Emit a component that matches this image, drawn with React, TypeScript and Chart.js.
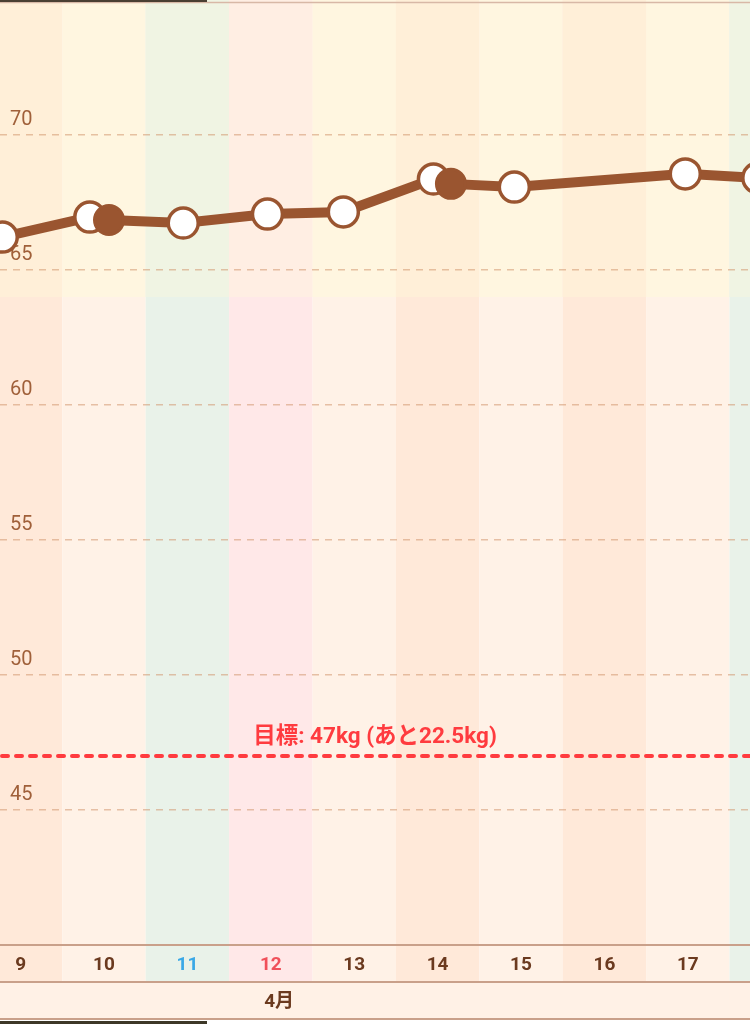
import React, { useEffect, useRef } from "react";
import { Chart, registerables } from "chart.js";

Chart.register(...registerables);

// day ticks shown under the plot
const DAYS = [9, 10, 11, 12, 13, 14, 15, 16, 17];
// background columns (one per day) and their kind
const COLUMN_DAYS = [9, 10, 11, 12, 13, 14, 15, 16, 17, 18];
const COLUMN_KIND = ["rest", "plain", "sat", "sun", "plain", "rest", "plain", "rest", "plain", "sat"];

// weight records: x = day (with time of day), y = kg
const WEIGHT_X = [8.78, 9.83, 10.06, 10.95, 11.96, 12.87, 13.95, 14.16, 14.92, 16.97, 17.84];
const WEIGHT_KG = [66.22, 66.96, 66.85, 66.74, 67.07, 67.15, 68.37, 68.19, 68.07, 68.56, 68.41];
const FILLED = [false, false, true, false, false, false, false, true, false, false, false];

const GOAL_KG = 47;
const GOAL_LABEL = "目標: 47kg (あと22.5kg)";
const ZONE_KG = 64;
const MONTH_LABEL = "4月";
const MONTH_AT = 12.1;

const BROWN = "#9A5530";
const TEXT_BROWN = "#6B3A1F";
const LINE_COLOR = "#C9A08A";
const UPPER: Record<string, string> = { rest: "#FFEFD8", plain: "#FFF6E0", sat: "#F0F4E3", sun: "#FFEEE3" };
const LOWER: Record<string, string> = { rest: "#FFE9D9", plain: "#FFF2E7", sat: "#E9F2E9", sun: "#FFE8E8" };

const FONT = "Roboto, 'Noto Sans CJK JP', sans-serif";
const ROW = 37;

const dayColor = (d: number) => (d === 11 ? "#3AA8E6" : d === 12 ? "#F0505A" : TEXT_BROWN);

const backdrop = {
  id: "backdrop",
  beforeDraw(chart: any) {
    const { ctx, chartArea, scales, width } = chart;
    const x = scales.x;
    const y = scales.y;
    const rowBottom = chartArea.bottom + ROW;
    ctx.save();
    COLUMN_DAYS.forEach((d, i) => {
      const l = x.getPixelForValue(d - 0.5);
      const r = x.getPixelForValue(d + 0.5);
      ctx.fillStyle = LOWER[COLUMN_KIND[i]];
      ctx.fillRect(l, 0, r - l, rowBottom);
      ctx.fillStyle = UPPER[COLUMN_KIND[i]];
      ctx.fillRect(l, 0, r - l, y.getPixelForValue(ZONE_KG));
    });
    ctx.fillStyle = "#FFF1E6";
    ctx.fillRect(0, rowBottom, width, ROW);

    ctx.strokeStyle = LINE_COLOR;
    ctx.lineWidth = 2;
    [chartArea.bottom, rowBottom, rowBottom + ROW].forEach((py) => {
      ctx.beginPath();
      ctx.moveTo(0, py);
      ctx.lineTo(width, py);
      ctx.stroke();
    });
    ctx.strokeStyle = "#D8B8A6";
    ctx.lineWidth = 1.5;
    ctx.beginPath();
    ctx.moveTo(0, 2.5);
    ctx.lineTo(width, 2.5);
    ctx.stroke();

    ctx.fillStyle = TEXT_BROWN;
    ctx.font = `bold 19px ${FONT}`;
    ctx.textAlign = "center";
    ctx.textBaseline = "middle";
    ctx.fillText(MONTH_LABEL, x.getPixelForValue(MONTH_AT), rowBottom + ROW / 2 + 2);
    ctx.restore();
  },
  beforeDatasetsDraw(chart: any) {
    const { ctx, chartArea, scales, width } = chart;
    const gy = scales.y.getPixelForValue(GOAL_KG);
    ctx.save();
    ctx.strokeStyle = "#FF3B3F";
    ctx.lineWidth = 4;
    ctx.lineCap = "round";
    ctx.setLineDash([6, 8]);
    ctx.beginPath();
    ctx.moveTo(2, gy);
    ctx.lineTo(width, gy);
    ctx.stroke();
    ctx.fillStyle = "#FF3B3F";
    ctx.font = `bold 22.5px ${FONT}`;
    ctx.textAlign = "center";
    ctx.textBaseline = "middle";
    ctx.fillText(GOAL_LABEL, (chartArea.left + chartArea.right) / 2, gy - 19);
    ctx.restore();
  },
};

const WeightChart: React.FC = () => {
  const ref = useRef<HTMLCanvasElement | null>(null);

  useEffect(() => {
    if (!ref.current) return;
    const chart = new Chart(ref.current, {
      type: "line",
      data: {
        datasets: [
          {
            data: WEIGHT_X.map((d, i) => ({ x: d, y: WEIGHT_KG[i] })),
            borderColor: BROWN,
            borderWidth: 10,
            tension: 0,
            pointRadius: (c: any) => (FILLED[c.dataIndex] ? 14.5 : 15),
            pointBackgroundColor: (c: any) => (FILLED[c.dataIndex] ? BROWN : "#FFFFFF"),
            pointBorderColor: BROWN,
            pointBorderWidth: (c: any) => (FILLED[c.dataIndex] ? 3 : 3.5),
            clip: false,
          },
        ],
      },
      options: {
        responsive: false,
        animation: false,
        events: [],
        layout: { autoPadding: false, padding: { left: 0, right: 0, top: 0, bottom: 38 } },
        plugins: { legend: { display: false }, tooltip: { enabled: false } },
        scales: {
          x: {
            type: "linear",
            min: 8.753,
            max: 17.746,
            afterBuildTicks: (s: any) => {
              s.ticks = DAYS.map((d) => ({ value: d }));
            },
            afterFit: (s: any) => {
              s.height = ROW;
              s.paddingLeft = 0;
              s.paddingRight = 0;
            },
            grid: { display: false, drawTicks: false },
            border: { display: false },
            ticks: {
              autoSkip: false,
              maxRotation: 0,
              padding: 9,
              font: { family: FONT, size: 19, weight: "bold" },
              color: (c: any) => dayColor(c.tick.value),
              callback: (v: any) => String(v),
            },
          },
          y: {
            min: 40,
            max: 75,
            afterFit: (s: any) => {
              s.width = 0;
              s.paddingTop = 0;
              s.paddingBottom = 0;
            },
            grid: {
              drawTicks: false,
              lineWidth: 1.5,
              color: (c: any) =>
                c.tick.value === 40 || c.tick.value === 75 ? "rgba(0,0,0,0)" : "rgba(210,150,110,0.55)",
            },
            border: { display: false, dash: [7, 6] },
            ticks: {
              stepSize: 5,
              mirror: true,
              padding: 10,
              labelOffset: -15,
              color: "#A0603A",
              font: { family: FONT, size: 20 },
              callback: (v: any) => (v === 40 || v === 75 ? "" : String(v)),
            },
          },
        },
      },
      plugins: [backdrop],
    } as any);
    return () => chart.destroy();
  }, []);

  return <canvas ref={ref} width={750} height={1020} />;
};

export default function App() {
  return (
    <div style={{ position: "fixed", left: 0, top: 0, width: 750, height: 1024, background: "#FFFFFF", overflow: "hidden" }}>
      <WeightChart />
      <div style={{ position: "absolute", left: 0, top: 0, width: 207, height: 2, background: "#4A3F33" }} />
      <div style={{ position: "absolute", left: 0, top: 1021, width: 207, height: 3, background: "#3D3828" }} />
    </div>
  );
}
